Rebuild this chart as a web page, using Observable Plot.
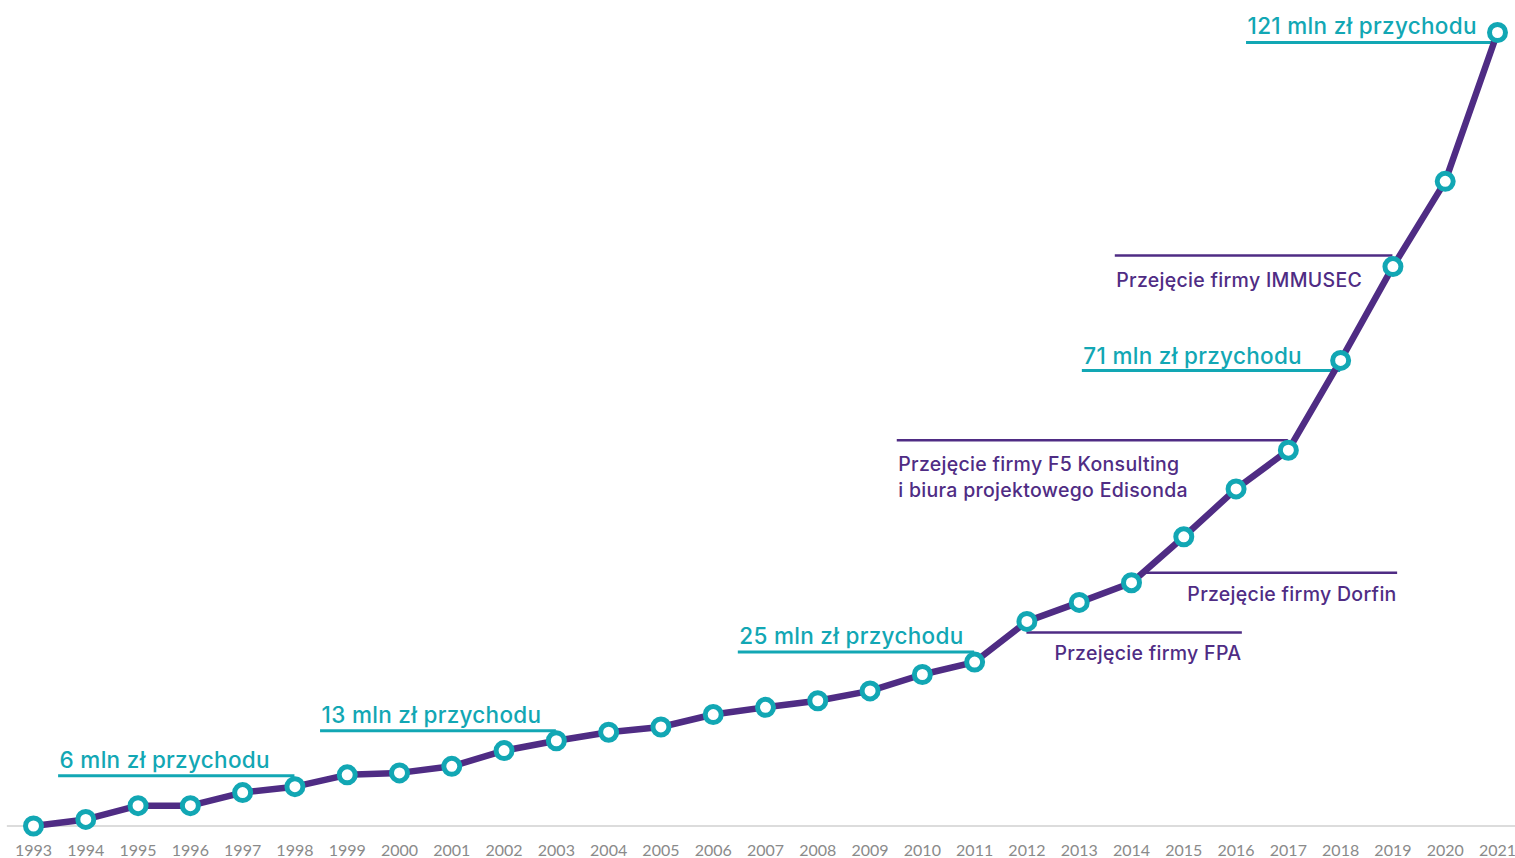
<!DOCTYPE html>
<html><head><meta charset="utf-8">
<script src="https://cdn.jsdelivr.net/npm/d3@7"></script>
<script src="https://cdn.jsdelivr.net/npm/@observablehq/plot@0.6"></script>
<style>
html,body{margin:0;padding:0;background:#fff;}
#chart svg{display:block;}
#chart g[aria-label="text"] text{letter-spacing:0.3px;}
</style></head><body><div id="chart"></div>
<script>
// ---- data ----
const years = [1993,1994,1995,1996,1997,1998,1999,2000,2001,2002,2003,2004,2005,2006,2007,2008,2009,2010,2011,2012,2013,2014,2015,2016,2017,2018,2019,2020,2021];
const revenue = [0,1.0,3.1,3.1,5.1,6,7.8,8.1,9.1,11.5,13,14.3,15.1,17.0,18.1,19.1,20.6,23.1,25,31.2,34.1,37.1,44.1,51.4,57.3,71,85.3,98.3,121];
const revenueLabelYears = [1998, 2003, 2011, 2018, 2021];
const revenueLabels = ["6 mln zł przychodu", "13 mln zł przychodu", "25 mln zł przychodu", "71 mln zł przychodu", "121 mln zł przychodu"];
const acquisitionYears = [2012, 2014, 2017, 2019];
const acquisitionLabels = ["Przejęcie firmy FPA", "Przejęcie firmy Dorfin", "Przejęcie firmy F5 Konsulting\ni biura projektowego Edisonda", "Przejęcie firmy IMMUSEC"];

// ---- styling / layout ----
const PURPLE = "#4f2c84";
const TEAL = "#12a7b4";
const FONT = "Lato, 'Open Sans', sans-serif";
const LABEL_FONT = "Inter, Lato, sans-serif";

const series = years.map((y, i) => ({year: y, value: revenue[i]}));
const valueOf = y => revenue[years.indexOf(y)];

const revLayout = [
  {from: 1993.48, lineDy: -11, textDy: -28},
  {from: 1998.49, lineDy: -10, textDy: -27},
  {from: 2006.48, lineDy: -10, textDy: -28},
  {from: 2013.06, lineDy: 10, textDy: -6},
  {from: 2016.2, lineDy: 10, textDy: -8}
];
const revAnn = revenueLabelYears.map((y, i) => ({
  x1: revLayout[i].from, x2: y, y: valueOf(y), label: revenueLabels[i], ...revLayout[i]
}));

const acqLayout = [
  {x1: 2012, x2: 2016.12, lineDy: 11, textDy: 30, anchor: "end"},
  {x1: 2014.21, x2: 2019.09, lineDy: -10, textDy: 10, anchor: "end"},
  {x1: 2009.52, x2: 2017, lineDy: -10, textDy: 25, anchor: "start"},
  {x1: 2013.69, x2: 2019, lineDy: -11, textDy: 12, anchor: "start"}
];
const acqAnn = acquisitionYears.map((y, i) => ({
  y: valueOf(y), label: acquisitionLabels[i], ...acqLayout[i],
  tx: acqLayout[i].anchor === "end" ? acqLayout[i].x2 : acqLayout[i].x1
}));

const rule = (arr, color, w) => arr.map(d => Plot.ruleY([d], {x1: "x1", x2: "x2", y: "y", dy: d.lineDy, stroke: color, strokeWidth: w}));
const label = (arr, color, size, weight, anchor) => arr.map(d => Plot.text([d], {
  x: anchor ? "tx" : "x1", y: "y", text: "label", dy: d.textDy, dx: anchor && d.anchor === "end" ? -1 : 1,
  textAnchor: anchor ? d.anchor : "start", fill: color, fontSize: size, fontWeight: weight,
  fontFamily: LABEL_FONT, lineHeight: 1.33
}));

const chart = Plot.plot({
  width: 1515,
  height: 858,
  marginLeft: 33,
  marginRight: 18,
  marginTop: 32,
  marginBottom: 32.5,
  style: {fontFamily: FONT, background: "#fff", overflow: "visible"},
  x: {domain: [1993, 2021]},
  y: {domain: [0, 121], axis: null},
  marks: [
    Plot.ruleY([0], {x1: 1992.5, x2: 2021.5, stroke: "#dcdcdc", strokeWidth: 2}),
    Plot.axisX({ticks: years, tickFormat: d => String(d), tickSize: 0, tickPadding: 19, fontSize: 16, fill: "#8a8a8a", label: null}),
    ...rule(revAnn, TEAL, 3),
    ...rule(acqAnn, PURPLE, 2.5),
    ...label(revAnn, TEAL, 22.5, 500, false),
    ...label(acqAnn, PURPLE, 19.5, 500, true),
    Plot.line(series, {x: "year", y: "value", stroke: PURPLE, strokeWidth: 6.5, strokeLinejoin: "round", strokeLinecap: "round"}),
    Plot.dot(series, {x: "year", y: "value", r: 8, fill: "white", stroke: TEAL, strokeWidth: 5})
  ]
});
document.getElementById("chart").append(chart);
</script></body></html>
